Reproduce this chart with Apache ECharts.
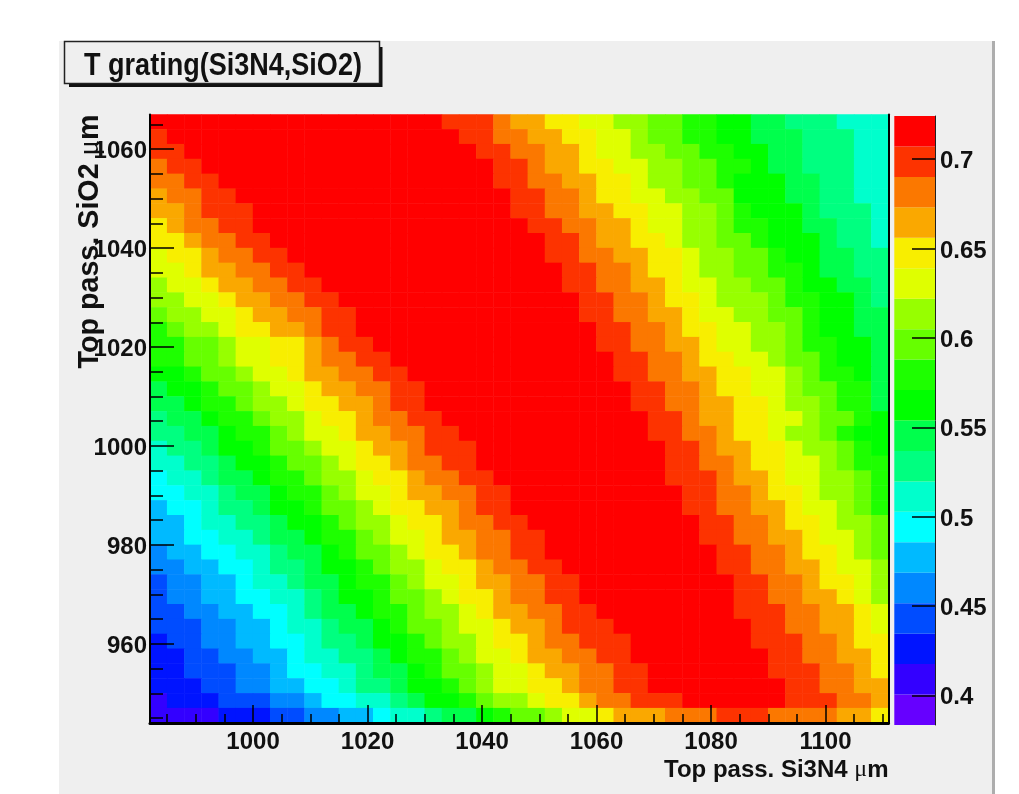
<!DOCTYPE html>
<html>
<head>
<meta charset="utf-8">
<style>html,body{margin:0;padding:0;background:#fff}#c{width:1019px;height:794px}</style>
<script src="https://cdn.jsdelivr.net/npm/echarts@6/dist/echarts.min.js"></script>
</head>
<body>
<div id="c"></div>
<script>
// Bin edges of the histogram (3 um bins)
const xMin = 982, xMax = 1111, yMin = 944, yMax = 1067;
const xMajor = [1000, 1020, 1040, 1060, 1080, 1100];
const xMinor = [985, 990, 995, 1005, 1010, 1015, 1025, 1030, 1035, 1045, 1050, 1055, 1065, 1070, 1075, 1085, 1090, 1095, 1105, 1110];
const yMajor = [960, 980, 1000, 1020, 1040, 1060];
const yMinor = [945, 950, 955, 965, 970, 975, 985, 990, 995, 1005, 1010, 1015, 1025, 1030, 1035, 1045, 1050, 1055, 1065];
const zMin = 0.3834, zMax = 0.7242;
const zTicks = [0.4, 0.45, 0.5, 0.55, 0.6, 0.65, 0.7];
const title = 'T grating(Si3N4,SiO2)';
// 20 contour bands, low to high
const bandLetters = 'abcdefghijklmnopqrst';
const bandColors = ['#6600ff','#3300ff','#0014ff','#004cff','#0088ff','#00baff','#00ffff','#00ffcc','#00ff80','#00ff4c','#00ff00','#1eff00','#66ff00','#97ff00','#dfff00','#f8ee00','#faa800','#fb7800','#fd3300','#ff0000'];
// Contour band of every cell: top row first, left column first
const cellRows = [
'tttttttttttttttttsssrqqppoonnmmllkkjjiiihhh',
'stttttttttttttttttssrrqqppoonmmllkkjjjiiihh',
'sstttttttttttttttttssrrqqpoonnmmllkkjjiiihh',
'rsstttttttttttttttttssrqqppoonnmmllkjjiiihh',
'rrsstttttttttttttttt'+'ssrrqqppon'+'nmmlkkkjjiihh',
'qrrsstttttttttttttttt'+'ssrrqppoonnmmkkkjjiihh',
'qqrssstttttttttttttttssrrqqppoonnmlkkkjiiih',
'pqrrsstttttttttttttttt'+'ssrrqqpoonnmllkkjjiih',
'ppqrrsstttttttttttttttt'+'ssrqqppon'+'nmmlkkkjiih',
'oppqrrsstttttttttttttttssrrqqppon'+'nmmlkkjjii',
'oopqqrrsstttttttttttttttssrrqppon'+'nmmllkjjii',
'noopqqrrss'+'tttttttttttttt'+'ssrrqqpoonnmmlkkjji',
'nnoopqqrrsstttttttttttttt'+'ssrrqppon'+'nnmllkkji',
'mnnoopqqrrsstttttttttttttssrrqqpoonnmmlkkjj',
'lmnnoppqqrsstttttttttttttt'+'ssrrqppoonnmlkkjj',
'llmmnooppqrsstttttttttttttssrrqqpoonnmllkkj',
'llmmnooppqrrsstttttttttttttssrrqppoonmmlkkj',
'kklmmnoopqqrrsstttttttttttt'+'ssrrqqppoonmllkj',
'jkklmmnoopqqrrsstttttttttttt'+'ssrrqppoonmmllj',
'jjkllmnnoppqqrsstttttttttttt'+'ssrrqqppon'+'nmllj',
'ijjkllmnnoppqrrsstttttttttttt'+'ssrqqppoonmmlk',
'iijjkllmnoopqqrrss'+'ttttttttttt'+'ssrrqppon'+'nmlkk',
'hiijkklmmnoopqqrsss'+'ttttttttttt'+'ssrqqppon'+'nmlk',
'hhiijkklmmnoppqrrss'+'ttttttttttt'+'ssrrqppoonmll',
'ghhijjkllmnnoppqrrss'+'tttttttttt'+'sssrqqpoonnml',
'gghhijjkllmnoopqqrrss'+'tttttttttt'+'ssrrqppon'+'nml',
'fgghiijkklmmnoppqqrss'+'tttttttttt'+'ssrrqqpoonml',
'ffghhiijkklmnnoppqrrss'+'tttttttttt'+'ssrrqppon'+'nm',
'ffgghhijjkllmnoopqqrrss'+'ttttttttt'+'ssrrqqpoonm',
'effgghhijjklmmnoppqrrss'+'tttttttttt'+'ssrrqppon'+'m',
'eeffgghiijkklmnnoppq'+'rrss'+'ttttttttt'+'ssrrqqpoon',
'deeffghhijjkllmnoopq'+'qrrss'+'ttttttttt'+'ssrrqppon',
'deeffgghhijkklmmnopp'+'qrrss'+'ttttttttt'+'ssrrqqpon',
'ddeeffgghijjkllmnnop'+'qqrrss'+'tttttttt'+'sssrrqqpo',
'dddeeffghhijjklmmnoo'+'pqqrsss'+'tttttttt'+'ssrrqqpo',
'cddeeffgghiijkklmnno'+'ppqrrsss'+'ttttttt'+'sssrrqpp',
'ccddeeffghhiijkllmno'+'opqqrrss'+'tttttttt'+'ssrrqqp',
'ccdddeefgghhijjklmmn'+'oopqqrrss'+'ttttttt'+'sssrrqp',
'cccddeeffgghiijkklmn'+'ooppqrrss'+'tttttttt'+'ssrrqq',
'bcccdddeefgghhijkklm'+'nnoppqrrsss'+'tttttt'+'sssrrq',
'bbbbcccddeeffghhijjk'+'lmmnoopqqqrrrsssrrrrqqp'
];
cellRows.forEach((r, i) => { if (r.length !== 43) throw new Error('row ' + i + ' has ' + r.length); });

const bandWidth = (zMax - zMin) / bandColors.length;
const xBins = cellRows[0].split('').map((_, i) => String(xMin + 3 * i));
const yBins = cellRows.map((_, j) => String(yMin + 3 * j));
const cells = [];
cellRows.forEach((row, j) => {
  row.split('').forEach((ch, i) => {
    const band = bandLetters.indexOf(ch);
    cells.push([i, cellRows.length - 1 - j, zMin + (band + 0.5) * bandWidth]);
  });
});
const pieces = bandColors.map((color, k) => ({ gte: zMin + k * bandWidth, lt: zMin + (k + 1) * bandWidth, color }));
const barData = bandColors.map((color, k) => [zMin + k * bandWidth, zMin + (k + 1) * bandWidth, k]);

const FONT = '"Liberation Sans", Arial, sans-serif';
const AXC = '#000';
const labelStyle = { fontFamily: FONT, fontWeight: 'bold', fontSize: 24, color: '#111', formatter: v => String(v) };
const loweredLabel = {
  formatter: v => '{a|' + v + '}',
  rich: { a: { fontFamily: FONT, fontWeight: 'bold', fontSize: 24, color: '#111', padding: [5, 0, 0, 0] } }
};
const rich = size => ({
  b: { fontFamily: FONT, fontWeight: 'bold', fontSize: size, color: '#111' },
  m: { fontFamily: '"Liberation Serif", serif', fontWeight: 'normal', fontSize: size, color: '#111' }
});

const chart = echarts.init(document.getElementById('c'), null, { renderer: 'canvas' });
chart.setOption({
  animation: false,
  backgroundColor: '#fff',
  grid: [
    { left: 150, top: 114.5, width: 738.5, height: 608.5 },
    { left: 894.3, top: 116, width: 40.7, height: 609 }
  ],
  xAxis: [
    { type: 'category', gridIndex: 0, data: xBins, show: false },
    { type: 'value', gridIndex: 0, min: xMin, max: xMax, position: 'bottom', z: 10,
      name: '{b|Top pass. Si3N4 }{m|\u03bc}{b|m}', nameLocation: 'end', nameGap: 0, nameMoveOverlap: false,
      nameTextStyle: { align: 'right', verticalAlign: 'top', padding: [35, 0, 0, 0], rich: rich(24) },
      axisLine: { show: true, onZero: false, lineStyle: { color: AXC, width: 3 } },
      axisTick: { show: true, inside: true, length: 18, lineStyle: { color: AXC, width: 1.5 }, customValues: xMajor },
      axisLabel: Object.assign({ show: true, margin: 7, customValues: xMajor }, labelStyle),
      splitLine: { show: false } },
    { type: 'value', gridIndex: 0, min: xMin, max: xMax, position: 'bottom', z: 10,
      axisLine: { show: false },
      axisTick: { show: true, inside: true, length: 9, lineStyle: { color: AXC, width: 1.5 }, customValues: xMinor },
      axisLabel: { show: false }, splitLine: { show: false } },
    { type: 'value', gridIndex: 1, min: 0, max: 1, show: false }
  ],
  yAxis: [
    { type: 'category', gridIndex: 0, data: yBins, show: false },
    { type: 'value', gridIndex: 0, min: yMin, max: yMax, position: 'left', z: 10,
      name: '{b|Top pass. SiO2 }{m|\u03bc}{b|m}', nameLocation: 'end', nameRotate: 90, nameGap: 0, nameMoveOverlap: false,
      nameTextStyle: { align: 'right', verticalAlign: 'bottom', padding: [0, 0, 45, 0], rich: rich(28.7) },
      axisLine: { show: true, onZero: false, lineStyle: { color: AXC, width: 2 } },
      axisTick: { show: true, inside: true, length: 24, lineStyle: { color: AXC, width: 1.5 }, customValues: yMajor },
      axisLabel: Object.assign({ show: true, margin: 3, customValues: yMajor }, loweredLabel),
      splitLine: { show: false } },
    { type: 'value', gridIndex: 0, min: yMin, max: yMax, position: 'left', z: 10,
      axisLine: { show: false },
      axisTick: { show: true, inside: true, length: 13, lineStyle: { color: AXC, width: 1.5 }, customValues: yMinor },
      axisLabel: { show: false }, splitLine: { show: false } },
    { type: 'value', gridIndex: 0, min: yMin, max: yMax, position: 'right', z: 10,
      axisLine: { show: true, onZero: false, lineStyle: { color: AXC, width: 2 } },
      axisTick: { show: false }, axisLabel: { show: false }, splitLine: { show: false } },
    { type: 'value', gridIndex: 1, min: zMin, max: zMax, position: 'right', z: 10,
      axisLine: { show: true, onZero: false, lineStyle: { color: '#222', width: 1 } },
      axisTick: { show: true, inside: true, length: 23, lineStyle: { color: '#000', width: 1.5 }, customValues: zTicks },
      axisLabel: Object.assign({ show: true, margin: 5, customValues: zTicks }, loweredLabel),
      splitLine: { show: false } }
  ],
  visualMap: { show: false, type: 'piecewise', seriesIndex: 0, dimension: 2, pieces },
  series: [
    { type: 'heatmap', xAxisIndex: 0, yAxisIndex: 0, data: cells, silent: true, progressive: 0,
      itemStyle: { borderWidth: 0 }, emphasis: { disabled: true } },
    { type: 'custom', xAxisIndex: 3, yAxisIndex: 4, data: barData, silent: true,
      encode: { y: [0, 1] },
      renderItem: (params, api) => {
        const p0 = api.coord([0, api.value(0)]);
        const p1 = api.coord([1, api.value(1)]);
        return { type: 'rect', shape: { x: p0[0], y: p1[1], width: p1[0] - p0[0], height: p0[1] - p1[1] },
                 style: { fill: bandColors[api.value(2)] } };
      } }
  ],
  graphic: [
    { type: 'rect', z: -10, silent: true, shape: { x: 59, y: 41, width: 933, height: 753 }, style: { fill: '#efefef' } },
    { type: 'rect', z: -10, silent: true, shape: { x: 992, y: 41, width: 3, height: 753 }, style: { fill: '#adadad' } },
    { type: 'rect', z: 50, silent: true, shape: { x: 69, y: 84, width: 313, height: 3 }, style: { fill: '#111' } },
    { type: 'rect', z: 50, silent: true, shape: { x: 380, y: 47, width: 2.5, height: 40 }, style: { fill: '#111' } },
    { type: 'rect', z: 51, silent: true, shape: { x: 64.5, y: 41.5, width: 315, height: 42 }, style: { fill: '#efefef', stroke: '#222', lineWidth: 1.5 } },
    { type: 'text', z: 52, silent: true, x: 223, y: 66, scaleX: 0.872,
      style: { text: title, fontFamily: FONT, fontWeight: 'bold', fontSize: 31, fill: '#111', align: 'center', verticalAlign: 'middle' } }
  ]
});
</script>
</body>
</html>
